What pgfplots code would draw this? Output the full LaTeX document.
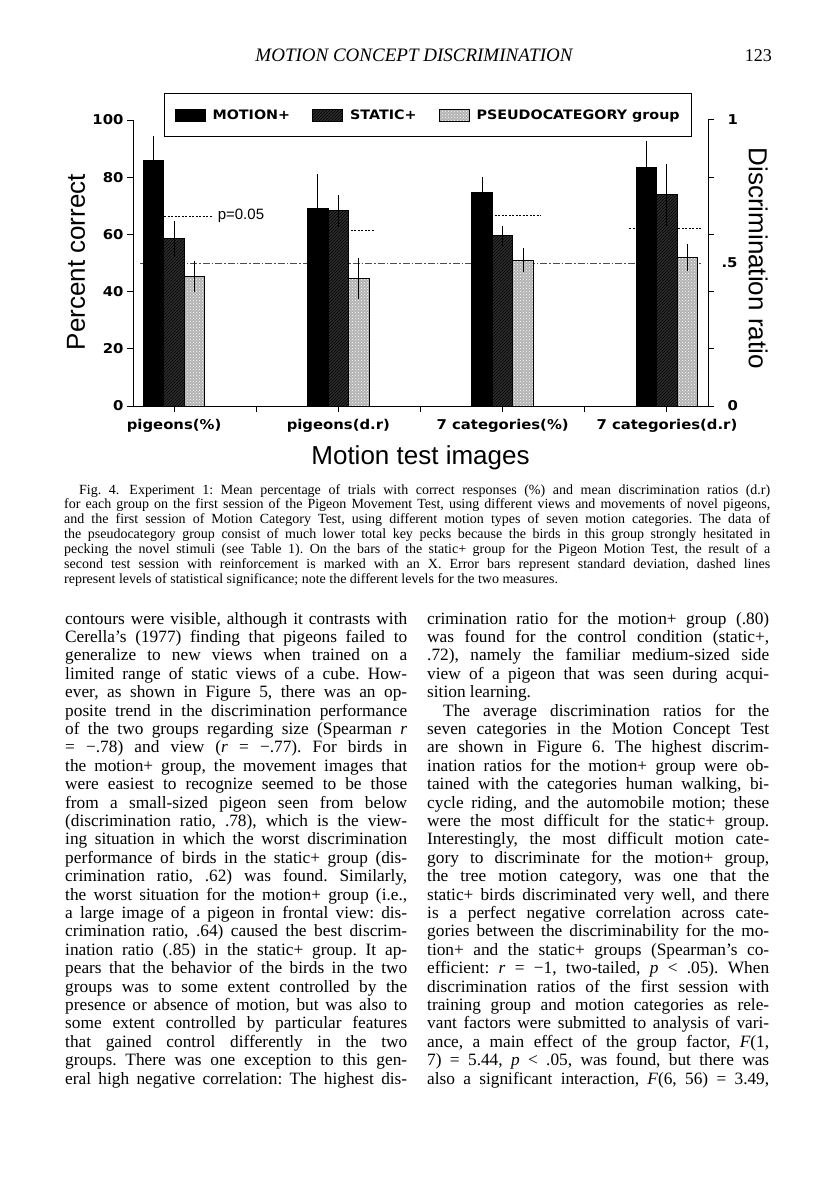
\documentclass[border=0pt]{standalone}
\usepackage{fontspec}
\setmainfont{Liberation Serif}
\setsansfont{Liberation Sans}
\newfontfamily\heavy[FakeStretch=1.1]{DejaVu Sans}
\usepackage{pgfplots}
\pgfplotsset{compat=1.18}
\usepackage{pgfplotstable}
\usetikzlibrary{patterns}

\newcommand\fs[2]{\fontsize{#1}{#2}\selectfont}
% one justified line / one ragged line of running text
\newcommand\JL[1]{\noindent\makebox[\linewidth][s]{#1}\par}
\newcommand\LL[1]{\noindent\makebox[\linewidth][l]{#1}\par}

% group means and standard deviations (percent / d.r x 100)
\pgfplotstableread{
x  motion mErr static sErr pseudo pErr
0  86     8.5  58.5   6.3  45.3   5.5
2  69.2   12   68.2   5.5  44.6   7.2
4  74.5   5.5  59.5   3.5  51.0   4.3
6  83.5   9.0  73.8   10.8 51.8   4.7
}\datatable

\begin{document}
\frenchspacing
\begin{tikzpicture}
\path[use as bounding box] (0pt,0pt) rectangle (816pt,-1193pt);

% running head
\node[anchor=base, inner sep=0pt] at (414pt,-62pt) {\fs{19}{19}\itshape MOTION CONCEPT DISCRIMINATION};
\node[anchor=base east, inner sep=0pt] at (772pt,-62pt) {\fs{18}{18}123};

\begin{axis}[
  at={(133pt,-406pt)}, anchor=south west,
  scale only axis, width=575pt, height=286pt,
  xmin=-0.5, xmax=6.5, ymin=0, ymax=100,
  axis x line*=bottom, axis y line*=left,
  axis line style={-, line width=1pt},
  tick style={line width=1pt, black},
  tick align=outside, major tick length=6pt,
  xtick={0,...,6},
  xticklabels={pigeons(\%),,pigeons(d.r),,7 categories(\%),,7 categories(d.r)},
  ytick={0,20,...,100},
  ticklabel style={font=\heavy\bfseries\fs{13.5}{13.5}},
  xticklabel style={yshift=-4pt},
  /pgf/number format/assume math mode=true,
  ybar=0pt, bar width=20.5pt,
  ylabel={Percent correct}, xlabel={Motion test images},
  label style={font=\sffamily\fs{26}{26}},
  ylabel style={at={(axis description cs:-0.099,0.503)}, anchor=center},
  xlabel style={at={(axis description cs:0.5,-0.182)}, anchor=center},
  legend columns=3,
  legend image code/.code={\draw[#1] (0pt,-6pt) rectangle (30pt,6pt);},
  legend style={at={(axis description cs:0.054,1.094)}, anchor=north west,
    draw=black, line width=1pt, font=\heavy\bfseries\fs{13}{13},
    inner xsep=10pt, inner ysep=14pt,
    /tikz/every odd column/.append style={column sep=5pt},
    /tikz/every even column/.append style={column sep=20pt}},
  error bars/y dir=both, error bars/y explicit,
  error bars/error mark=none,
  error bars/error bar style={line width=1pt, black},
]
% chance level and significance levels
\draw[dash pattern=on 7pt off 2pt on 1.5pt off 2pt, line width=0.7pt, black!70]
  (axis cs:-0.41,50) -- (axis cs:6.43,50);
\draw[dash pattern=on 2pt off 1.5pt, line width=0.9pt] (axis cs:-0.12,66.4) -- (axis cs:0.47,66.4);
\draw[dash pattern=on 2pt off 1.5pt, line width=0.9pt] (axis cs:2.11,61.4) -- (axis cs:2.45,61.4);
\draw[dash pattern=on 2pt off 1.5pt, line width=0.9pt] (axis cs:3.86,66.8) -- (axis cs:4.46,66.8);
\draw[dash pattern=on 2pt off 1.5pt, line width=0.9pt] (axis cs:5.54,62) -- (axis cs:6.43,62);
\node[anchor=west, inner sep=0pt, font=\sffamily\fs{15}{15}] at (axis cs:0.53,66.4) {p=0.05};

\addplot[draw=black, line width=1pt, fill=black]
  table[x=x, y=motion, y error=mErr] {\datatable};
\addplot[draw=black, line width=1pt, fill=black!82, postaction={pattern=north east lines}]
  table[x=x, y=static, y error=sErr] {\datatable};
\addplot[draw=black, line width=1pt, fill=black!30, postaction={pattern=crosshatch dots, pattern color=white}]
  table[x=x, y=pseudo, y error=pErr] {\datatable};
\legend{MOTION+, STATIC+, PSEUDOCATEGORY group}
\end{axis}

% right-hand scale: discrimination ratio
\begin{axis}[
  at={(133pt,-406pt)}, anchor=south west,
  scale only axis, width=575pt, height=286pt,
  xmin=-0.5, xmax=6.5, ymin=0, ymax=1,
  hide x axis, axis y line*=right,
  axis line style={-, line width=1pt},
  tick style={line width=1pt, black},
  tick align=outside, major tick length=6pt,
  ytick={0,0.2,0.4,0.6,0.8,1}, yticklabels={0,,,,,1},
  extra y ticks={0.5}, extra y tick labels={.5},
  extra y tick style={major tick length=0pt},
  ticklabel style={font=\heavy\bfseries\fs{13.5}{13.5}},
  yticklabel style={xshift=10pt},
  ylabel={Discrimination ratio},
  ylabel style={font=\sffamily\fs{26}{26}, at={(axis description cs:1.087,0.517)}, anchor=center, rotate=180},
]
\end{axis}

% figure caption
\node[anchor=base west, inner sep=0pt] at (64pt,-494pt) {\parbox[t]{706pt}{\fs{14}{14.85}%
\JL{\hspace*{15pt}Fig. 4.\hspace{10pt}Experiment 1: Mean percentage of trials with correct responses (\%) and mean discrimination ratios (d.r)}
\JL{for each group on the first session of the Pigeon Movement Test, using different views and movements of novel pigeons,}
\JL{and the first session of Motion Category Test, using different motion types of seven motion categories. The data of}
\JL{the pseudocategory group consist of much lower total key pecks because the birds in this group strongly hesitated in}
\JL{pecking the novel stimuli (see Table 1). On the bars of the static+ group for the Pigeon Motion Test, the result of a}
\JL{second test session with reinforcement is marked with an X. Error bars represent standard deviation, dashed lines}
\LL{represent levels of statistical significance; note the different levels for the two measures.}}};

% left column
\node[anchor=base west, inner sep=0pt] at (65pt,-624pt) {\parbox[t]{342pt}{\fs{17.3}{18.4}%
\JL{contours were visible, although it contrasts with}
\JL{Cerella’s (1977) finding that pigeons failed to}
\JL{generalize to new views when trained on a}
\JL{limited range of static views of a cube. How-}
\JL{ever, as shown in Figure 5, there was an op-}
\JL{posite trend in the discrimination performance}
\JL{of the two groups regarding size (Spearman \textit{r}}
\JL{= −.78) and view (\textit{r} = −.77). For birds in}
\JL{the motion+ group, the movement images that}
\JL{were easiest to recognize seemed to be those}
\JL{from a small-sized pigeon seen from below}
\JL{(discrimination ratio, .78), which is the view-}
\JL{ing situation in which the worst discrimination}
\JL{performance of birds in the static+ group (dis-}
\JL{crimination ratio, .62) was found. Similarly,}
\JL{the worst situation for the motion+ group (i.e.,}
\JL{a large image of a pigeon in frontal view: dis-}
\JL{crimination ratio, .64) caused the best discrim-}
\JL{ination ratio (.85) in the static+ group. It ap-}
\JL{pears that the behavior of the birds in the two}
\JL{groups was to some extent controlled by the}
\JL{presence or absence of motion, but was also to}
\JL{some extent controlled by particular features}
\JL{that gained control differently in the two}
\JL{groups. There was one exception to this gen-}
\JL{eral high negative correlation: The highest dis-}}};

% right column
\node[anchor=base west, inner sep=0pt] at (427pt,-624pt) {\parbox[t]{342pt}{\fs{17.3}{18.4}%
\JL{crimination ratio for the motion+ group (.80)}
\JL{was found for the control condition (static+,}
\JL{.72), namely the familiar medium-sized side}
\JL{view of a pigeon that was seen during acqui-}
\LL{sition learning.}
\JL{\hspace*{16pt}The average discrimination ratios for the}
\JL{seven categories in the Motion Concept Test}
\JL{are shown in Figure 6. The highest discrim-}
\JL{ination ratios for the motion+ group were ob-}
\JL{tained with the categories human walking, bi-}
\JL{cycle riding, and the automobile motion; these}
\JL{were the most difficult for the static+ group.}
\JL{Interestingly, the most difficult motion cate-}
\JL{gory to discriminate for the motion+ group,}
\JL{the tree motion category, was one that the}
\JL{static+ birds discriminated very well, and there}
\JL{is a perfect negative correlation across cate-}
\JL{gories between the discriminability for the mo-}
\JL{tion+ and the static+ groups (Spearman’s co-}
\JL{efficient: \textit{r} = −1, two-tailed, \textit{p} < .05). When}
\JL{discrimination ratios of the first session with}
\JL{training group and motion categories as rele-}
\JL{vant factors were submitted to analysis of vari-}
\JL{ance, a main effect of the group factor, \textit{F}(1,}
\JL{7) = 5.44, \textit{p} < .05, was found, but there was}
\JL{also a significant interaction, \textit{F}(6, 56) = 3.49,}}};
\end{tikzpicture}
\end{document}
